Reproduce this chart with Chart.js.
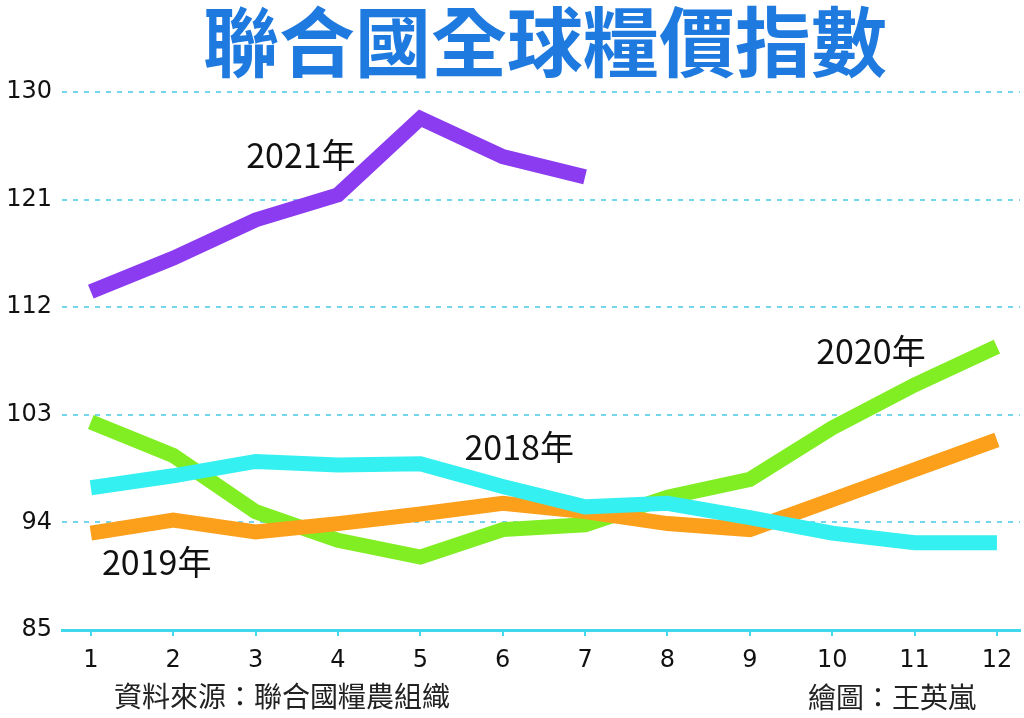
<!DOCTYPE html>
<html>
<head>
<meta charset="utf-8">
<script src="https://cdn.jsdelivr.net/npm/chart.js@4.4.1/dist/chart.umd.min.js"></script>
<style>
  html, body { margin: 0; padding: 0; background: #fff; }
  #wrap { width: 1024px; height: 718px; position: relative; }
</style>
</head>
<body>
<div id="wrap"><canvas id="foodChart"></canvas></div>
<script>
// Data
const months = [1, 2, 3, 4, 5, 6, 7, 8, 9, 10, 11, 12];
const yTicks = [85, 94, 103, 112, 121, 130];
const values2018 = [96.9, 97.9, 99.1, 98.8, 98.9, 97.0, 95.3, 95.6, 94.4, 93.1, 92.3, 92.3];
const values2019 = [93.1, 94.2, 93.2, 93.9, 94.7, 95.6, 94.9, 93.9, 93.4, 95.9, 98.4, 100.9];
const values2020 = [102.4, 99.6, 94.9, 92.5, 91.1, 93.4, 93.8, 96.1, 97.6, 101.9, 105.5, 108.7];
const values2021 = [113.3, 116.1, 119.3, 121.4, 127.8, 124.6, 122.9];

const seriesLabels = ['2018年', '2019年', '2020年', '2021年'];
const seriesColors = ['#34f0f0', '#fca01c', '#80ee22', '#8b3cf0'];
// label anchor points in data units (month, index)
const labelX = [6.2, 1.8, 10.47, 3.55];
const labelY = [100.3, 90.7, 108.3, 124.7];

const fontCJK = '"Noto Sans CJK TC", "Noto Sans CJK SC", sans-serif';

function toPoints(arr) {
  return arr.map((v, i) => ({ x: months[i], y: v }));
}

// Draw title, series labels and footer text
const textPlugin = {
  id: 'textPlugin',
  afterDraw(chart) {
    const ctx = chart.ctx;
    const xs = chart.scales.x;
    const ys = chart.scales.y;
    ctx.save();

    // title
    ctx.fillStyle = '#1f7ae0';
    ctx.font = 'bold 76px ' + fontCJK;
    ctx.textAlign = 'center';
    ctx.textBaseline = 'middle';
    ctx.fillText('聯合國全球糧價指數', 545, 42);

    // series labels
    ctx.fillStyle = '#111';
    ctx.font = '34px "Liberation Sans Narrow", ' + fontCJK;
    seriesLabels.forEach((lab, i) => {
      ctx.fillText(lab, xs.getPixelForValue(labelX[i]), ys.getPixelForValue(labelY[i]));
    });

    // footer
    ctx.font = '28px ' + fontCJK;
    ctx.fillStyle = '#222';
    ctx.textAlign = 'left';
    ctx.fillText('資料來源：聯合國糧農組織', 114, 696);
    ctx.fillText('繪圖：王英嵐', 808, 697);
    ctx.restore();
  }
};

const ctx = document.getElementById('foodChart').getContext('2d');
const chart = new Chart(ctx, {
  type: 'line',
  data: {
    datasets: [
      { label: '2018年', data: toPoints(values2018) },
      { label: '2019年', data: toPoints(values2019) },
      { label: '2020年', data: toPoints(values2020) },
      { label: '2021年', data: toPoints(values2021) }
    ].map((ds, i) => ({
      ...ds,
      borderColor: seriesColors[i],
      backgroundColor: seriesColors[i],
      borderWidth: 15,
      pointRadius: 0,
      tension: 0,
      borderJoinStyle: 'miter',
      borderCapStyle: 'butt',
      fill: false
    }))
  },
  options: {
    responsive: true,
    maintainAspectRatio: false,
    animation: false,
    layout: {
      padding: { top: 92, right: 4, bottom: 0, left: 0 }
    },
    plugins: {
      legend: { display: false },
      tooltip: { enabled: false }
    },
    scales: {
      x: {
        type: 'linear',
        min: 0.65,
        max: 12.28,
        afterBuildTicks: axis => { axis.ticks = months.map(v => ({ value: v })); },
        afterFit: axis => { axis.height = 88; },
        border: { display: true, color: '#3fd8ec', width: 3 },
        grid: {
          display: true,
          drawOnChartArea: false,
          drawTicks: true,
          tickLength: 6,
          color: '#3fd8ec',
          lineWidth: 2
        },
        ticks: {
          color: '#111',
          padding: 10,
          font: { size: 24, family: '"DejaVu Sans", sans-serif' }
        }
      },
      y: {
        min: 85,
        max: 130,
        afterBuildTicks: axis => { axis.ticks = yTicks.map(v => ({ value: v })); },
        afterFit: axis => { axis.width = 62; },
        border: { display: false, dash: [5, 6] },
        grid: {
          drawTicks: false,
          color: ctx => ctx.tick && ctx.tick.value === 85 ? 'rgba(0,0,0,0)' : '#74d6ea',
          lineWidth: 2
        },
        ticks: {
          color: '#111',
          padding: 10,
          font: { size: 24, family: '"DejaVu Sans", sans-serif' }
        }
      }
    }
  },
  plugins: [textPlugin]
});
</script>
</body>
</html>
